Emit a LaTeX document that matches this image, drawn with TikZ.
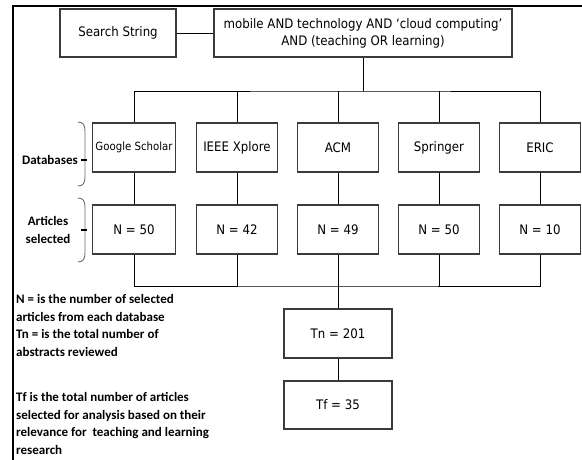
\documentclass[tikz,border=0pt]{standalone}
\usepackage{fontspec}
\setmainfont{Carlito}
\newfontfamily\boxfont{DejaVu Sans}[FakeStretch=0.9]
\definecolor{boxgray}{HTML}{3A3A3A}
\definecolor{bracegray}{HTML}{707070}
\begin{document}
\begin{tikzpicture}[x=1pt,y=-1pt,
  box/.style={draw=boxgray, line width=1.1pt, inner sep=0pt, align=center,
    minimum height=49pt, font=\boxfont\fontsize{13.1}{17}\selectfont},
  dbbox/.style={box, minimum width=81pt},
  conn/.style={draw=black, line width=0.9pt},
  lbl/.style={font=\bfseries\fontsize{13}{18}\selectfont, inner sep=0pt, align=center},
  lg/.style={font=\bfseries\fontsize{13}{17}\selectfont, inner sep=0pt, anchor=base west},
  bracestyle/.style={draw=bracegray, line width=0.9pt}
]
\useasboundingbox (0,0) rectangle (582,459);
\fill[white] (0,0) rectangle (582,459);
% frame
\draw[line width=2.2pt] (13,461) -- (13,6) -- (584,6);

% top row
\node[box, minimum width=116pt, minimum height=48pt] (ss) at (118,33) {Search String};
\node[box, minimum width=298pt, minimum height=48pt] (q) at (363,33)
  {mobile AND technology AND ‘cloud computing’\\AND (teaching OR learning)};
\draw[conn] (ss) -- (q);

% databases
\node[dbbox, font=\boxfont\fontsize{11.3}{14}\selectfont, minimum width=83pt] (gs) at (134,147.5) {Google Scholar};
\node[dbbox] (ie) at (237,147.5) {IEEE Xplore};
\node[dbbox] (ac) at (338,147.5) {ACM};
\node[dbbox] (sp) at (439,147.5) {Springer};
\node[dbbox] (er) at (540,147.5) {ERIC};

% counts
\node[dbbox, minimum width=83pt] (n1) at (134,229.5) {N = 50};
\node[dbbox] (n2) at (237,229.5) {N = 42};
\node[dbbox] (n3) at (338,229.5) {N = 49};
\node[dbbox] (n4) at (439,229.5) {N = 50};
\node[dbbox] (n5) at (540,229.5) {N = 10};

% totals
\node[box, minimum width=108pt, minimum height=49pt] (tn) at (338,333.5) {Tn = 201};
\node[box, minimum width=108pt, minimum height=48pt] (tf) at (338,405) {Tf = 35};

% upper bus
\coordinate (bt) at (363,91);
\draw[conn] (q.south) -- (bt);
\draw[conn] (gs.north) |- (bt) -| (er.north);
\draw[conn] (ie.north) -- (ie.north |- bt);
\draw[conn] (ac.north) -- (ac.north |- bt);
\draw[conn] (sp.north) -- (sp.north |- bt);

% db to counts
\draw[conn] (gs) -- (n1);
\draw[conn] (ie) -- (n2);
\draw[conn] (ac) -- (n3);
\draw[conn] (sp) -- (n4);
\draw[conn] (er) -- (n5);

% lower bus
\coordinate (bb) at (338,286);
\draw[conn] (n1.south) |- (bb) -| (n5.south);
\draw[conn] (n2.south) -- (n2.south |- bb);
\draw[conn] (n4.south) -- (n4.south |- bb);
\draw[conn] (n3.south) -- (tn.north);
\draw[conn] (tn) -- (tf);

% braces and labels
\draw[bracestyle] (78,122) .. controls (83,122) and (85,125) .. (85,131) -- (85,177)
  .. controls (85,183) and (83,186) .. (78,186);
\coordinate (dbt) at (81,160);
\draw[line width=1.6pt] (dbt) -- ++(6,0);
\node[lbl, anchor=east] (dbl) at (78,160) {Databases};

\draw[bracestyle] (78,198) .. controls (83,198) and (85,201) .. (85,207) -- (85,253)
  .. controls (85,259) and (83,262) .. (78,262);
\coordinate (art) at (81,230);
\draw[line width=1.6pt] (art) -- ++(6,0);
\node[lbl] (arl) at (48,230) {Articles\\selected};

% legend
\node[lg] (l1) at (16,303.5) {N = is the number of selected};
\node[lg] (l2) at (16,321) {articles from each database};
\node[lg] (l3) at (16,338.5) {Tn = is the total number of};
\node[lg] (l4) at (16,356) {abstracts reviewed};
\node[lg] (l5) at (16,401.5) {Tf is the total number of articles};
\node[lg] (l6) at (16,419) {selected for analysis based on their};
\node[lg] (l7) at (16,436.5) {relevance for\ \ teaching and learning};
\node[lg] (l8) at (16,454) {research};
\end{tikzpicture}
\end{document}
